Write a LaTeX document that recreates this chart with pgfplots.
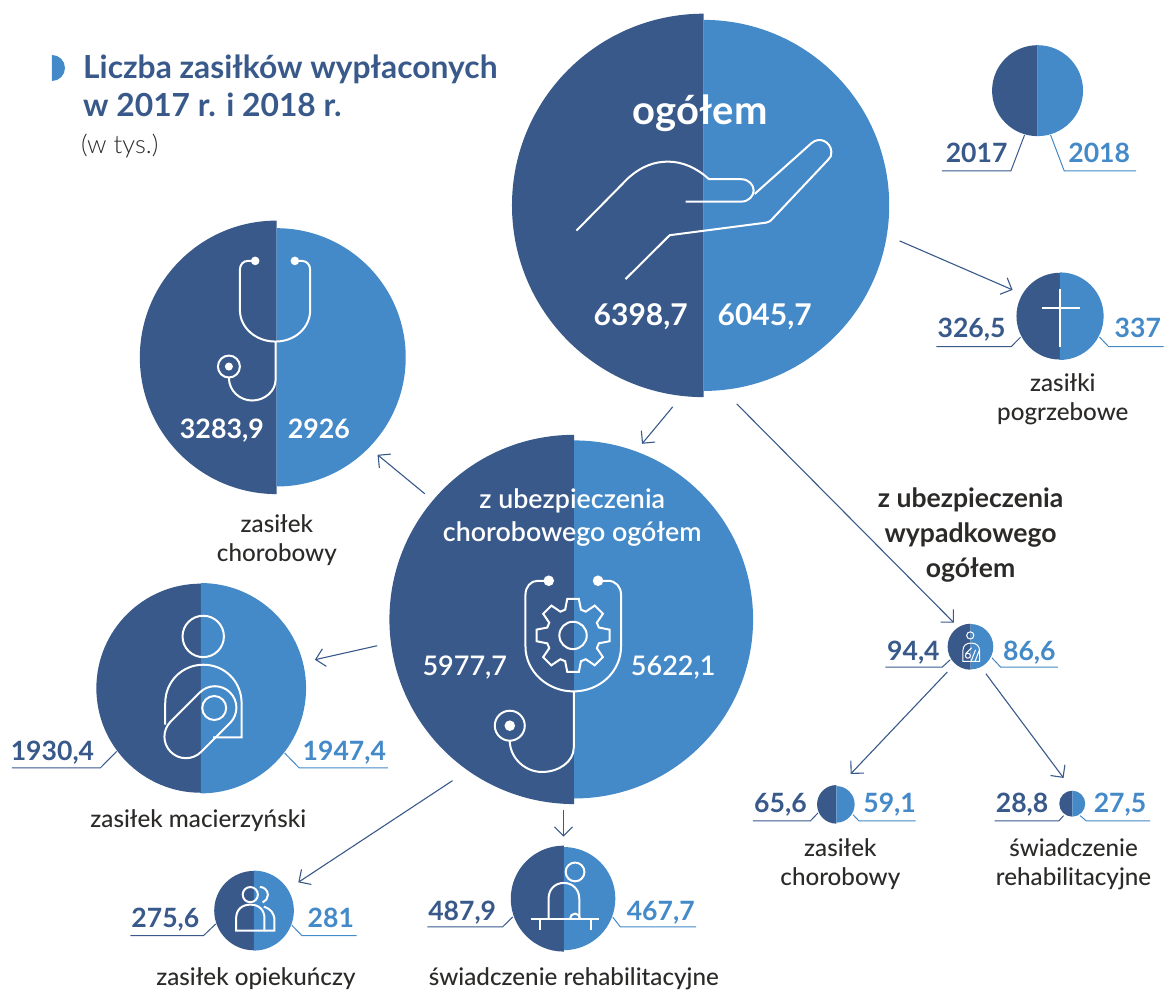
\documentclass[border=0pt]{standalone}
\usepackage{pgfplots}
\pgfplotsset{compat=1.18}
\usepackage{pgfplotstable}
\usepackage{fontspec}
\setmainfont{Lato}
\newfontfamily\lgt{Lato Light}
\newfontfamily\med{Lato Medium}
\newfontfamily\sem{Lato Semibold}
\usetikzlibrary{arrows.meta}
\definecolor{dk}{HTML}{38598A}
\definecolor{lt}{HTML}{4489C8}
\definecolor{tx}{HTML}{2B2A29}
\pgfdeclareplotmark{halfL}{\pgfpathmoveto{\pgfqpoint{0pt}{\rr pt}}\pgfpatharc{90}{270}{\rr pt}\pgfpathclose\pgfusepathqfill}
\pgfdeclareplotmark{halfR}{\pgfpathmoveto{\pgfqpoint{0pt}{\rr pt}}\pgfpatharc{90}{-90}{\rr pt}\pgfpathclose\pgfusepathqfill}
\pgfplotstableread{
x y r17 r18
704 205.5 191.8 185.6
276.7 357.5 136.8 129.2
574.3 619.7 184.7 179.1
201 688.5 104.6 105.2
254 911 39.7 40
564 899 53 51.6
971 647 23 22.7
836.7 804.7 19.3 18.3
1072.7 804 13 13
1038 90.7 45.5 45.5
1060.3 316.3 43.4 43.8
}\discs
\pgfplotstableread{
x y r18
52 68 13
}\bullettab
\pgfplotsset{canvas/.style={hide axis,scale only axis,width=1164pt,height=990pt,xmin=0,xmax=1164,ymin=0,ymax=990,y dir=reverse,clip=false}}
\tikzset{ic/.style={draw=white,line width=2pt},ics/.style={draw=white,line width=1pt},wf/.style={fill=white,draw=none},
 ar/.style={draw=dk,line width=1.1pt,-{Straight Barb[length=9pt,width=18pt,line width=1.1pt]}}}
\newcommand{\T}[6]{\node[anchor=#3,inner sep=0pt,text=#4,font=\fontsize{#5}{#5}\selectfont] at (#1,#2) {#6};}
\newcommand{\Lead}[7]{\draw[#7,line width=1pt] (#1,#2) -- (#3,#4) -- (#5,#6);}
\begin{document}
\begin{tikzpicture}
\begin{axis}[canvas]
\addplot[scatter,only marks,mark=halfL,visualization depends on={\thisrow{r17}\as\rr},scatter/use mapped color={draw=none,fill=dk}] table[x=x,y=y]{\discs};
\addplot[scatter,only marks,mark=halfR,visualization depends on={\thisrow{r18}\as\rr},scatter/use mapped color={draw=none,fill=lt}] table[x=x,y=y]{\discs};
\addplot[scatter,only marks,mark=halfR,visualization depends on={\thisrow{r18}\as\rr},scatter/use mapped color={draw=none,fill=lt}] table[x=x,y=y]{\bullettab};
\path (0,0) rectangle (1164,990);
\end{axis}
\begin{axis}[canvas]
% title
\T{83}{78.5}{base west}{dk}{31.8}{\bfseries Liczba zasiłków wypłaconych}
\T{83}{116.5}{base west}{dk}{31.8}{\bfseries w 2017 r. i 2018 r.}
\T{81}{154}{base west}{tx}{25.5}{\lgt (w tys.)}
% arrows
\draw[ar] (900,241) -- (1013,290);
\draw[ar] (673,407) -- (642.3,444);
\draw[ar] (737,404) -- (954.3,623);
\draw[ar] (425,494) -- (377.7,455);
\draw[ar] (377.3,646) -- (315,660);
\draw[ar] (452.7,781) -- (298.4,882.7);
\draw[ar] (563.8,810) -- (563.8,837);
\draw[ar] (947.7,672.3) -- (851,774.3);
\draw[ar] (986.3,674) -- (1064,778.3);
% leaders
\Lead{942.3}{171}{1011.3}{171}{1025}{135}{dk}
\Lead{1136.7}{171}{1064.7}{171}{1051}{135}{lt}
\Lead{936.7}{346.7}{1011.7}{346.7}{1021}{337.3}{dk}
\Lead{1164}{346.7}{1109}{346.7}{1100}{337.3}{lt}
\Lead{12}{768.3}{100.3}{768.3}{116.7}{751.7}{dk}
\Lead{388}{768.3}{299.3}{768.3}{284.7}{753.3}{lt}
\Lead{130.4}{936}{203.6}{936}{215.9}{924.3}{dk}
\Lead{356.7}{936}{302}{936}{292}{925.7}{lt}
\Lead{427.6}{927.3}{502.8}{927.3}{513}{917.3}{dk}
\Lead{696.5}{927.3}{620.6}{927.3}{613}{917.5}{lt}
\Lead{885.7}{667.3}{942.7}{667.3}{950.7}{660}{dk}
\Lead{1058.3}{667.3}{1001}{667.3}{992.3}{658}{lt}
\Lead{753.3}{821.3}{810.7}{821.3}{818.3}{813.3}{dk}
\Lead{916}{821.3}{859.3}{821.3}{853.3}{815}{lt}
\Lead{995}{821.3}{1059.3}{821.3}{1064}{816}{dk}
\Lead{1150.7}{821.3}{1086.7}{821.3}{1080.7}{816}{lt}
% white texts
\T{700.5}{125}{base}{white}{40}{\bfseries ogółem}
\T{641}{326}{base}{white}{30}{\bfseries 6398,7}
\T{765}{326}{base}{white}{30}{\bfseries 6045,7}
\T{222}{439}{base}{white}{26.8}{\bfseries 3283,9}
\T{319}{439}{base}{white}{26.8}{\bfseries 2926}
\T{465}{676}{base}{white}{27}{\sem 5977,7}
\T{673.5}{676}{base}{white}{27}{\sem 5622,1}
\T{572.5}{508.5}{base}{white}{26.8}{\sem z ubezpieczenia}
\T{572.5}{541.5}{base}{white}{26.8}{\sem chorobowego ogółem}
% values
\T{977}{162.5}{base}{dk}{26.6}{\bfseries 2017}
\T{1099.7}{162.5}{base}{lt}{26.6}{\bfseries 2018}
\T{972}{338}{base}{dk}{26.6}{\bfseries 326,5}
\T{1138.3}{338}{base}{lt}{26.6}{\bfseries 337}
\T{52.5}{761}{base}{dk}{26.6}{\bfseries 1930,4}
\T{344.5}{761}{base}{lt}{26.6}{\bfseries 1947,4}
\T{165.5}{928}{base}{dk}{26.6}{\bfseries 275,6}
\T{331}{928}{base}{lt}{26.6}{\bfseries 281}
\T{462.4}{921}{base}{dk}{26.6}{\bfseries 487,9}
\T{661}{921}{base}{lt}{26.6}{\bfseries 467,7}
\T{913.8}{660.7}{base}{dk}{26.6}{\bfseries 94,4}
\T{1029.8}{660.7}{base}{lt}{26.6}{\bfseries 86,6}
\T{780.8}{812.5}{base}{dk}{26.6}{\bfseries 65,6}
\T{890}{812.5}{base}{lt}{26.6}{\bfseries 59,1}
\T{1022.5}{812.5}{base}{dk}{26.6}{\bfseries 28,8}
\T{1120.5}{812.5}{base}{lt}{26.6}{\bfseries 27,5}
% captions
\T{277}{532.5}{base}{tx}{24.2}{\med zasiłek}
\T{277}{562}{base}{tx}{24.2}{\med chorobowy}
\T{198.3}{828.3}{base}{tx}{24.2}{\med zasiłek macierzyński}
\T{256}{986}{base}{tx}{24.2}{\med zasiłek opiekuńczy}
\T{574}{986}{base}{tx}{24.2}{\med świadczenie rehabilitacyjne}
\T{840.7}{857.2}{base}{tx}{24.2}{\med zasiłek}
\T{840.7}{886.2}{base}{tx}{24.2}{\med chorobowy}
\T{1074}{857.2}{base}{tx}{24.2}{\med świadczenie}
\T{1074}{886.2}{base}{tx}{24.2}{\med rehabilitacyjne}
\T{1063.3}{391.2}{base}{tx}{24.2}{\med zasiłki}
\T{1063.3}{420.5}{base}{tx}{24.2}{\med pogrzebowe}
\T{971}{508}{base}{tx}{26.6}{\bfseries z ubezpieczenia}
\T{971}{543}{base}{tx}{26.6}{\bfseries wypadkowego}
\T{971}{578}{base}{tx}{26.6}{\bfseries ogółem}
% hand
\draw[ic] (576.7,230.7) -- (628.3,178.3) .. controls (642,166) and (655,161.7) .. (668.3,161.7) .. controls (683,161.7) and (697,168) .. (709.3,179.3) -- (741.7,179.3) .. controls (749,179.3) and (754,185) .. (754,190.5) .. controls (754,196) and (749,201.7) .. (741.7,201.7) -- (686,201.7);
\draw[ic] (755,194) -- (811.7,143.3) .. controls (820,136) and (831,142) .. (831.7,151.7) .. controls (832,155) and (831,158) .. (828.3,160) -- (773.3,218.3) .. controls (771,221) and (769,222.5) .. (766.7,222.7) -- (670,235.3) -- (625.7,279.3);
% big stethoscope
\draw[ic] (544,581) -- (538,581) .. controls (531,581) and (525.7,587) .. (525.7,595) -- (525.7,646.7) .. controls (525.7,672) and (548,691.7) .. (573.6,691.7) .. controls (600,691.7) and (621.3,672) .. (621.3,646.7) -- (621.3,595) .. controls (621.3,587) and (616,581) .. (608,581) -- (603,581);
\draw[ic] (574,691.7) -- (574,748) .. controls (574,762) and (559,772.3) .. (542.3,772.3) .. controls (525,772.3) and (510,758) .. (510,741);
\draw[ic] (510,726) circle[radius=15pt];
\fill[wf] (510,726) circle[radius=5.3pt];
\fill[wf] (549,581) circle[radius=5.3pt];
\fill[wf] (598.3,581) circle[radius=5.3pt];
\draw[ic] (573.3,635.7) circle[radius=13.7pt];
\draw[ic] (599.1,627.8) -- (609.8,629.9) -- (609.8,641.5) -- (599.1,643.6) -- (597.1,648.4) -- (603.2,657.4) -- (595,665.6) -- (586,659.5) -- (581.2,661.5) -- (579.1,672.2) -- (567.5,672.2) -- (565.4,661.5) -- (560.6,659.5) -- (551.6,665.6) -- (543.4,657.4) -- (549.5,648.4) -- (547.5,643.6) -- (536.8,641.5) -- (536.8,629.9) -- (547.5,627.8) -- (549.5,623) -- (543.4,614) -- (551.6,605.8) -- (560.6,611.9) -- (565.4,609.9) -- (567.5,599.2) -- (579.1,599.2) -- (581.2,609.9) -- (586,611.9) -- (595,605.8) -- (603.2,614) -- (597.1,623) -- cycle;
% small stethoscope
\draw[ic] (252,261) -- (248,261) .. controls (243,261) and (240,265) .. (240,270) -- (240,310) .. controls (240,328) and (256,341.7) .. (275.5,341.7) .. controls (295,341.7) and (310.3,328) .. (310.3,310) -- (310.3,270) .. controls (310.3,265) and (307,261) .. (302,261) -- (298,261);
\draw[ic] (275.7,341.7) -- (275.7,380) .. controls (275.7,391) and (265,400.7) .. (252.3,400.7) .. controls (240,400.7) and (229,391) .. (229,378);
\draw[ic] (229,366.7) circle[radius=11pt];
\fill[wf] (229,366.7) circle[radius=4pt];
\fill[wf] (255.3,261) circle[radius=4.3pt];
\fill[wf] (295,261) circle[radius=4.3pt];
% mother
\draw[ic] (203.3,636.7) circle[radius=20.7pt];
\draw[ic] (165.3,725) -- (165.3,703.5) .. controls (165.3,682) and (182,665) .. (203.5,665) .. controls (225,665) and (241.7,682) .. (241.7,703.5) -- (241.7,737.7) -- (213.3,737.7);
\draw[ic] (199.8,692.8) arc[start angle=135,end angle=-45,radius=21.5pt] -- (201.2,752.2) arc[start angle=-45,end angle=-225,radius=21.5pt] -- cycle;
\draw[ic] (214.3,708.3) circle[radius=12pt];
% two persons
\draw[ic] (250.4,895) circle[radius=7.6pt];
\draw[ic] (236.2,931) -- (236.2,919) .. controls (236.2,910) and (242,905) .. (250.4,905) .. controls (259,905) and (264.6,910) .. (264.6,919) -- (264.6,931) -- cycle;
\draw[ic] (260,887.3) arc[start angle=90,end angle=-70,radius=8pt];
\draw[ic] (264,907) .. controls (270,909) and (274.6,913) .. (274.6,921) -- (274.6,931) -- (264.6,931);
% rehab
\draw[ic] (575.3,872.3) circle[radius=9.4pt];
\draw[ic] (548.8,919) -- (548.8,899) .. controls (548.8,890) and (555,883.3) .. (564,883.3) .. controls (573,883.3) and (579.5,890) .. (579.5,899) -- (579.5,919);
\draw[ic] (531.2,919) -- (599.5,919);
\draw[ic] (540,919) -- (540,930);
\draw[ic] (591,919) -- (591,930);
\draw[ic] (570.3,919) arc[start angle=180,end angle=0,radius=5pt];
% injured
\draw[ics] (970.7,635.7) circle[radius=3.6pt];
\draw[ics] (963.3,661.7) -- (963.3,651) .. controls (963.3,646) and (966.5,643.3) .. (971.5,643.3) .. controls (976.5,643.3) and (980,646) .. (980,651) -- (980,661.7) -- cycle;
\draw[ics] (968.3,656) circle[radius=2.5pt];
\draw[ics] (976,650) -- (971.7,661);
\draw[ics] (980,650) -- (975.7,661);
\draw[ics] (966,654) -- (972,648);
% cross
\draw[ic] (1060.7,289.3) -- (1060.7,346.7);
\draw[ic] (1042,307.7) -- (1080,307.7);
\end{axis}
\end{tikzpicture}
\end{document}
